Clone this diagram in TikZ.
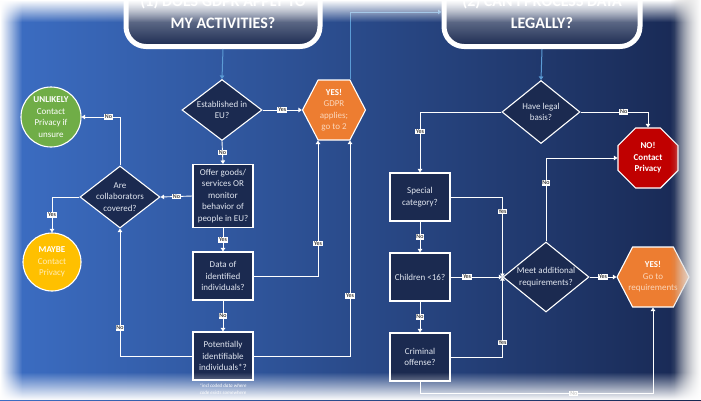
\documentclass[tikz,border=0pt]{standalone}
\usepackage{fontspec}
\setmainfont{Carlito}
\usetikzlibrary{calc,shapes.geometric,shapes.symbols,arrows.meta,fadings}

\definecolor{panelL}{RGB}{60,110,196}
\definecolor{panelM}{RGB}{42,78,148}
\definecolor{panelR}{RGB}{24,40,82}
\definecolor{navy}{RGB}{27,42,80}
\definecolor{hdrTop}{RGB}{205,212,226}
\definecolor{hdrMid}{RGB}{40,56,96}
\definecolor{linkBlue}{RGB}{91,155,213}
\definecolor{txtGray}{RGB}{225,230,240}
\definecolor{gdprOrange}{RGB}{237,125,49}
\definecolor{paleOrange}{RGB}{251,214,186}
\definecolor{okGreen}{RGB}{112,173,71}
\definecolor{maybeGold}{RGB}{255,192,0}
\definecolor{paleGold}{RGB}{255,236,180}
\definecolor{stopRed}{RGB}{192,0,0}

\tikzset{
  flow/.style={white, line width=0.9pt, -{Triangle[width=4.5pt,length=3.5pt]}},
  link/.style={linkBlue, line width=1pt, -{Triangle[width=4.5pt,length=3.5pt]}},
  qtxt/.style={text=txtGray, align=center, inner sep=0pt, font=\fontsize{9}{11.5}\selectfont},
  qbox/.style={rectangle, draw=white, line width=1.1pt, fill=navy, minimum width=60pt, qtxt},
  qdia/.style={diamond, draw=white, line width=1.1pt, fill=navy, inner sep=0pt},
  hexa/.style={signal, signal to=east and west, signal pointer angle=125, draw=white, line width=1.1pt, fill=gdprOrange, inner sep=0pt, minimum height=60pt},
  blob/.style={circle, draw=white, line width=1.1pt, inner sep=0pt},
  yn/.style={fill=white, text=black, inner sep=0.9pt, font=\fontsize{6}{6}\selectfont},
  hdr/.style={rectangle, rounded corners=20pt, draw=white, line width=5pt, top color=hdrTop, middle color=hdrMid, bottom color=navy, minimum height=69pt, text=white, align=center, font=\bfseries\fontsize{16}{22}\selectfont},
}

\begin{document}
\begin{tikzpicture}[x=1pt, y=-1pt]
		%%%%% START %%%%%
		
		\useasboundingbox (0,0) rectangle (701,400);
		\shade[left color=panelL, middle color=panelM, right color=panelR] (0,0) rectangle (701,400);
		
		% headers
		\node[hdr, minimum width=194pt] (hdr1) at (223,12) {(1) DOES GDPR APPLY TO\\MY ACTIVITIES?};
		\node[hdr, minimum width=196pt] (hdr2) at (542,12) {(2) CAN I PROCESS DATA\\LEGALLY?};
		
		% part 1
		\node[qdia, minimum width=80pt, minimum height=61pt, label={[qtxt]center:Established in\\EU?}] (est) at (222,110) {};
		\node[hexa, minimum width=63pt, label={[qtxt, text=paleOrange]center:\textcolor{white}{\textbf{YES!}}\\GDPR\\applies;\\go to 2}] (hex1) at (334,110) {};
		\node[qbox, minimum height=63pt] (offer) at (223,196) {Offer goods/\\services OR\\monitor\\behavior of\\people in EU?};
		\node[qdia, minimum width=80pt, minimum height=62pt, label={[qtxt]center:Are\\collaborators\\covered?}] (coll) at (120,197) {};
		\node[blob, fill=okGreen, minimum size=60pt, label={[qtxt, text=white]center:\textbf{UNLIKELY}\\Contact\\Privacy if\\unsure}] (unl) at (51,117) {};
		\node[blob, fill=maybeGold, minimum size=58pt, label={[qtxt, text=paleGold]center:\textcolor{white}{\textbf{MAYBE}}\\Contact\\Privacy}] (may) at (52,262) {};
		\node[qbox, minimum height=48pt] (data) at (223,276) {Data of\\identified\\individuals?};
		\node[qbox, minimum height=48pt] (pot) at (223,356) {Potentially\\identifiable\\individuals*?};
		\node[text=white, align=center, font=\itshape\fontsize{5}{6.5}\selectfont] (note) at (223,389) {*incl coded data where\\code exists somewhere};
		
		\draw[link] (hdr1.south) -- (est.north);
		\draw[flow] (est.east) -- node[yn] {Yes} (hex1.west);
		\draw[flow] (est.south) -- node[yn] {No} (offer.north);
		\draw[flow] (offer.west) -- node[yn] {No} (coll.east);
		\draw[flow] (coll.north) |- node[yn, pos=0.65] {No} (unl.east);
		\draw[flow] (coll.west) -| node[yn, pos=0.75] {Yes} (may.north);
		\draw[flow] (offer.south) -- node[yn] {Yes} (data.north);
		\draw[flow] (data.east) -| node[yn, pos=0.62] {Yes} ($(hex1.south)+(-16,0)$);
		\draw[flow] (data.south) -- node[yn] {No} (pot.north);
		\draw[flow] (pot.west) -| node[yn, pos=0.61] {No} (coll.south);
		\draw[flow] (pot.east) -| node[yn, pos=0.64] {Yes} ($(hex1.south)+(16,0)$);
		\draw[link] ($(hex1.north)+(16,0)$) |- (hdr2.west);
		
		% part 2
		\node[qdia, minimum width=78pt, minimum height=63pt, label={[qtxt]center:Have legal\\basis?}] (legal) at (541,112) {};
		\node[regular polygon, regular polygon sides=8, draw=white, line width=1.1pt, fill=stopRed, inner sep=0pt, minimum size=65pt, label={[qtxt, text=white, font=\bfseries\fontsize{9}{11.5}\selectfont]center:NO!\\Contact\\Privacy}] (nop) at (648,158) {};
		\node[qbox, minimum height=48pt] (spec) at (420,197) {Special\\category?};
		\node[qbox, minimum height=48pt] (chil) at (420,277) {Children <16?};
		\node[qbox, minimum height=48pt] (crim) at (420,357) {Criminal\\offense?};
		\node[qdia, minimum width=86pt, minimum height=70pt, label={[qtxt]center:Meet additional\\requirements?}] (meet) at (546,277) {};
		\node[hexa, minimum width=72pt, label={[qtxt, text=paleOrange]center:\textcolor{white}{\textbf{YES!}}\\Go to\\requirements}] (hex2) at (653,277) {};
		
		\draw[link] (hdr2.south) -- (legal.north);
		\draw[flow] (legal.east) -| node[yn, pos=0.32] {No} (nop.north);
		\draw[flow] (legal.west) -| node[yn, pos=0.66] {Yes} (spec.north);
		\draw[flow] (spec.south) -- node[yn] {No} (chil.north);
		\draw[flow] (chil.south) -- node[yn] {No} (crim.north);
		\draw[flow] (spec.east) -| node[yn, pos=0.59] {Yes} (meet.west);
		\draw[flow] (chil.east) -- node[yn, pos=0.32] {Yes} (meet.west);
		\draw[flow] (crim.east) -| node[yn, pos=0.59] {Yes} (meet.west);
		\draw[flow] (meet.north) |- node[yn, pos=0.35] {No} (nop.west);
		\draw[flow] (meet.east) -- node[yn] {Yes} (hex2.west);
		\draw[flow] (crim.south) -- ++(0,12) -| node[yn, pos=0.33] {No} (hex2.south);
		
		% soft edges
		\fill[white, path fading=east] (0,0) rectangle (22,400);
		\fill[white, path fading=south] (0,0) rectangle (701,22);
		\fill[black!30, path fading=west] (670,0) rectangle (701,400);
		\fill[white, path fading=west] (674,0) rectangle (701,400);
		\fill[white, path fading=north] (0,372) rectangle (701,400);
		
		%%%%% END %%%%%
\end{tikzpicture}
\end{document}
